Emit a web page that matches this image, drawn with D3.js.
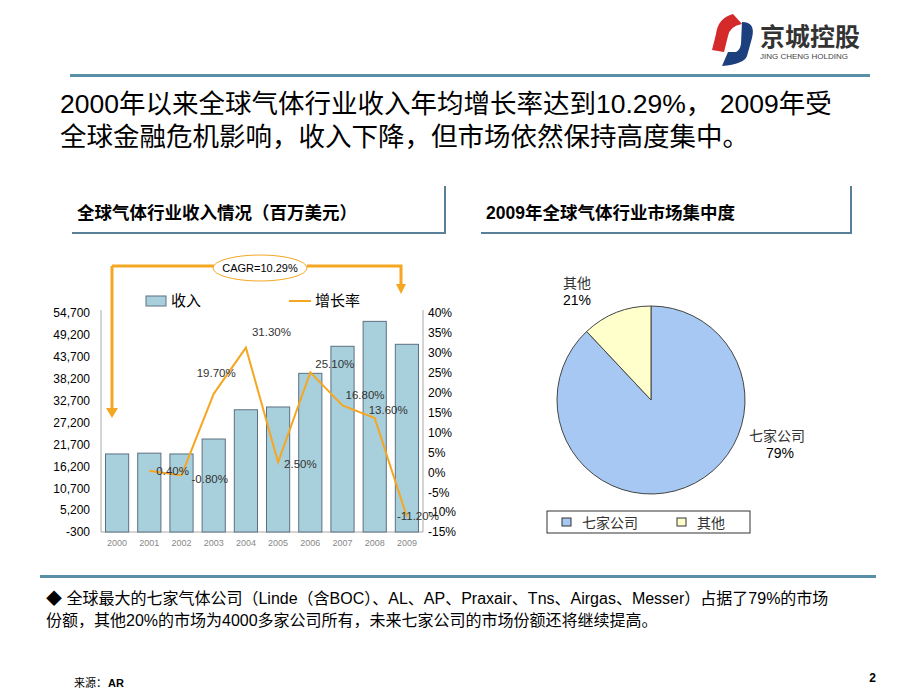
<!DOCTYPE html><html><head><meta charset="utf-8">
<script src="https://cdn.jsdelivr.net/npm/d3@7"></script>
<style>body{margin:0;background:#fff}svg{display:block}</style></head><body>
<svg id="c" width="920" height="690"></svg>
<script>
const years=["2000","2001","2002","2003","2004","2005","2006","2007","2008","2009"];
const revenue=[19300,19500,19300,23050,30400,31100,39550,46340,52600,46840];
const growthYears=["2001","2002","2003","2004","2005","2006","2007","2008","2009"];
const growth=[0.4,-0.8,19.7,31.3,2.5,25.1,16.8,13.6,-11.2];
const growthLabels=["0.40%","-0.80%","19.70%","31.30%","2.50%","25.10%","16.80%","13.60%","-11.20%"];
const leftTicks=[-300,5200,10700,16200,21700,27200,32700,38200,43700,49200,54700];
const rightTicks=[-15,-10,-5,0,5,10,15,20,25,30,35,40];
const pieNames=["七家公司","其他"];
const pieShares=[88,12];
const pieLabels=["79%","21%"];

const svg=d3.select("#c");
const F="'Liberation Sans','Noto Sans CJK SC',sans-serif";
svg.style("font-family",F);

svg.append("rect").attr("x",70).attr("y",74).attr("width",800).attr("height",3).attr("fill","#5a8fa8");
const lg=svg.append("g");
lg.append("path").attr("d","M733,14 Q718,18 716,34 L712,50 L724,52 L728,36 Q730,26 742,24 Z").attr("fill","#d42a2a");
lg.append("path").attr("d","M742,22 Q756,22 752,38 L747,56 Q744,64 722,66 L728,52 L736,52 Q740,50 741,44 Z").attr("fill","#1c3f7e");
lg.append("text").attr("x",760).attr("y",46).attr("font-size",25).attr("font-weight","bold").attr("fill","#333").text("京城控股");
lg.append("text").attr("x",760).attr("y",59).attr("font-size",8).attr("fill","#444").text("JING CHENG HOLDING");

svg.append("text").attr("x",60).attr("y",113).attr("font-size",26.5).attr("fill","#000").text("2000年以来全球气体行业收入年均增长率达到10.29%， 2009年受");
svg.append("text").attr("x",60).attr("y",146).attr("font-size",26.5).attr("fill","#000").text("全球金融危机影响，收入下降，但市场依然保持高度集中。");

function sec(x1,x2,label){
  svg.append("rect").attr("x",x1).attr("y",232).attr("width",x2-x1).attr("height",2).attr("fill","#5a7f99");
  svg.append("rect").attr("x",x2-2).attr("y",186).attr("width",2).attr("height",48).attr("fill","#5a7f99");
  svg.append("text").attr("x",x1+5).attr("y",219).attr("font-size",17.5).attr("font-weight","bold").text(label);
}
sec(72,446,"全球气体行业收入情况（百万美元）");
sec(481,852,"2009年全球气体行业市场集中度");

const x=d3.scaleBand().domain(years).range([101,423]).paddingInner(0.28).paddingOuter(0.14);
const yL=d3.scaleLinear().domain([-300,54700]).range([532,313]);
const yR=d3.scaleLinear().domain([-15,40]).range([532,313]);
const g=svg.append("g");
g.append("line").attr("x1",101).attr("x2",101).attr("y1",310).attr("y2",532).attr("stroke","#aaa");
g.append("line").attr("x1",101).attr("x2",423).attr("y1",532).attr("y2",532).attr("stroke","#aaa");
g.append("line").attr("x1",423).attr("x2",423).attr("y1",310).attr("y2",532).attr("stroke","#aaa");
const aL=g.append("g").attr("transform","translate(101,0)").call(d3.axisLeft(yL).tickValues(leftTicks).tickFormat(d=>d3.format(",")(d).replace("−","-")).tickSize(0).tickPadding(11));
aL.select(".domain").remove();
aL.selectAll("text").attr("font-size",12).attr("font-family",F).attr("fill","#000");
const aR=g.append("g").attr("transform","translate(423,0)").call(d3.axisRight(yR).tickValues(rightTicks).tickFormat(d=>d+"%").tickSize(0).tickPadding(5));
aR.select(".domain").remove();
aR.selectAll("text").attr("font-size",12).attr("font-family",F).attr("fill","#000");
const aX=g.append("g").attr("transform","translate(0,532)").call(d3.axisBottom(x).tickSize(0).tickPadding(8));
aX.select(".domain").remove();
aX.selectAll("text").attr("font-size",9).attr("font-family",F).attr("fill","#888");
g.selectAll("rect.bar").data(years).join("rect").attr("class","bar")
 .attr("x",d=>x(d)).attr("width",x.bandwidth())
 .attr("y",(d,i)=>yL(revenue[i])).attr("height",(d,i)=>532-yL(revenue[i]))
 .attr("fill","#a8d0dc").attr("stroke","#5d7080").attr("stroke-width",1);
const cx=d=>x(d)+x.bandwidth()/2;
g.append("path").datum(growth).attr("fill","none").attr("stroke","#f5a623").attr("stroke-width",2)
 .attr("d",d3.line().x((d,i)=>cx(growthYears[i])).y(d=>yR(d)));
const lblOff=[[7,4],[10,8],[-17,-17],[6,-12],[6,6],[5,-4],[3,-6],[-6,-4],[-10,3]];
g.selectAll("text.gl").data(growthLabels).join("text").attr("class","gl")
 .attr("x",(d,i)=>cx(growthYears[i])+lblOff[i][0]).attr("y",(d,i)=>yR(growth[i])+lblOff[i][1])
 .attr("font-size",11.5).attr("fill","#333").text(d=>d);
g.append("rect").attr("x",146).attr("y",296).attr("width",20).attr("height",10).attr("fill","#a8d0dc").attr("stroke","#5d7080");
g.append("text").attr("x",171).attr("y",306).attr("font-size",15).text("收入");
g.append("line").attr("x1",289).attr("x2",311).attr("y1",301).attr("y2",301).attr("stroke","#f5a623").attr("stroke-width",2);
g.append("text").attr("x",315).attr("y",306).attr("font-size",15).text("增长率");
const o="#f5a623";
g.append("path").attr("d","M112,266 L214,266 M307,266 L401,266 L401,287 M112,266 L112,410").attr("stroke",o).attr("stroke-width",3).attr("fill","none");
g.append("path").attr("d","M106,408 L118,408 L112,418 Z M396,284 L406,284 L401,294 Z").attr("fill",o);
g.append("ellipse").attr("cx",260).attr("cy",268).attr("rx",47).attr("ry",13).attr("fill","#fff").attr("stroke",o);
g.append("text").attr("x",260).attr("y",272).attr("text-anchor","middle").attr("font-size",11).text("CAGR=10.29%");

const pie=d3.pie().sort(null).value(d=>d)(pieShares);
const arc=d3.arc().innerRadius(0).outerRadius(94);
const colors=["#a6c8f2","#ffffcc"];
svg.append("g").attr("transform","translate(651,400)").selectAll("path").data(pie).join("path")
 .attr("d",arc).attr("fill",(d,i)=>colors[i]).attr("stroke","#444").attr("stroke-width",1);
svg.append("text").attr("x",777).attr("y",441).attr("text-anchor","middle").attr("font-size",14).attr("fill","#333").text(pieNames[0]);
svg.append("text").attr("x",780).attr("y",458).attr("text-anchor","middle").attr("font-size",14).text(pieLabels[0]);
svg.append("text").attr("x",577).attr("y",288).attr("text-anchor","middle").attr("font-size",14).attr("fill","#333").text(pieNames[1]);
svg.append("text").attr("x",577).attr("y",305).attr("text-anchor","middle").attr("font-size",14).text(pieLabels[1]);
svg.append("rect").attr("x",547).attr("y",511).attr("width",203).attr("height",22).attr("fill","#fff").attr("stroke","#333");
pieNames.forEach((n,i)=>{
  const lx=[562,677][i];
  svg.append("rect").attr("x",lx).attr("y",518).attr("width",9).attr("height",8).attr("fill",colors[i]).attr("stroke","#333");
  svg.append("text").attr("x",lx+20).attr("y",528).attr("font-size",14).attr("fill","#333").text(n);
});

svg.append("rect").attr("x",40).attr("y",575).attr("width",836).attr("height",3).attr("fill","#5a8fa8");
svg.append("text").attr("x",46).attr("y",604).attr("font-size",16).text("◆ 全球最大的七家气体公司（Linde（含BOC）、AL、AP、Praxair、Tns、Airgas、Messer）占据了79%的市场");
svg.append("text").attr("x",46).attr("y",626).attr("font-size",16).text("份额，其他20%的市场为4000多家公司所有，未来七家公司的市场份额还将继续提高。");
svg.append("text").attr("x",74).attr("y",687).attr("font-size",11).text("来源：");
svg.append("text").attr("x",108).attr("y",687).attr("font-size",11).attr("font-weight","bold").text("AR");
svg.append("text").attr("x",876).attr("y",682).attr("font-size",12).attr("font-weight","bold").attr("text-anchor","end").text("2");
</script></body></html>
